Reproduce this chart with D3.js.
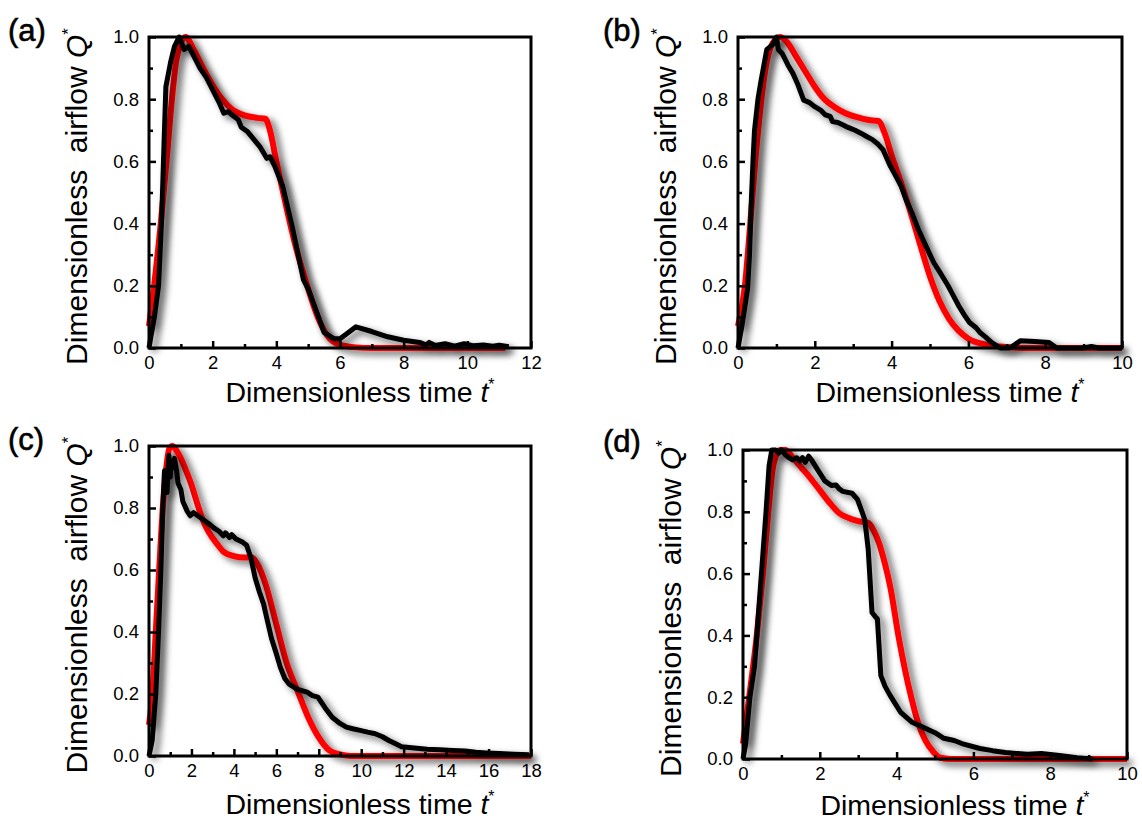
<!DOCTYPE html>
<html>
<head>
<meta charset="utf-8">
<script src="https://cdn.jsdelivr.net/npm/d3@7"></script>
<style>
  body { margin: 0; background: #fff; }
  svg { display: block; font-family: Arial, "Liberation Sans", sans-serif; }
  .tick text { font-size: 18.5px; fill: #000; }
  .tick line { stroke: #000; stroke-width: 2.5; }
</style>
</head>
<body>
<svg id="chart" width="1142" height="822"></svg>
<script>
// model curves (red) and measured airflow (black), [t*, Q*]
const modelA = [[0,0.07],[0.16,0.2],[0.37,0.4],[0.55,0.6],[0.72,0.8],[0.85,0.92],[1.0,0.98],[1.15,1.0],[1.4,0.96],[1.7,0.9],[2.0,0.845],[2.3,0.8],[2.6,0.768],[3.0,0.748],[3.4,0.74],[3.65,0.737],[3.8,0.7],[4.0,0.6],[4.3,0.46],[4.6,0.33],[5.0,0.19],[5.3,0.1],[5.6,0.04],[6.0,0.01],[6.5,0.002],[7,0],[11.2,0]];
const measA = [[0,0],[0.05,0.03],[0.17,0.1],[0.3,0.2],[0.4,0.42],[0.47,0.65],[0.53,0.84],[0.68,0.92],[0.8,0.97],[0.95,1.0],[1.1,0.96],[1.25,0.97],[1.4,0.94],[1.6,0.9],[1.8,0.87],[2.0,0.83],[2.2,0.79],[2.35,0.755],[2.5,0.76],[2.6,0.75],[2.8,0.735],[2.9,0.71],[3.1,0.695],[3.3,0.67],[3.5,0.645],[3.7,0.61],[3.8,0.615],[3.95,0.585],[4.2,0.52],[4.5,0.39],[4.85,0.22],[5.0,0.19],[5.2,0.135],[5.5,0.05],[5.8,0.03],[6.0,0.03],[6.2,0.045],[6.5,0.068],[7.0,0.053],[7.5,0.036],[8.0,0.025],[8.5,0.018],[8.7,0.01],[8.8,0.018],[9.0,0.008],[9.3,0.014],[9.6,0.006],[9.9,0.014],[10.2,0.007],[10.5,0.01],[10.8,0.006],[11.0,0.009],[11.3,0.004]];

const modelB = [[0,0.07],[0.18,0.2],[0.32,0.4],[0.45,0.6],[0.61,0.8],[0.72,0.9],[0.9,0.98],[1.1,1.0],[1.3,0.98],[1.5,0.94],[1.75,0.89],[2.0,0.84],[2.25,0.8],[2.5,0.776],[2.8,0.755],[3.1,0.742],[3.4,0.733],[3.65,0.73],[3.85,0.68],[4.0,0.62],[4.25,0.53],[4.5,0.434],[4.75,0.33],[5.0,0.23],[5.25,0.15],[5.5,0.093],[5.75,0.055],[6.0,0.03],[6.5,0.01],[7,0.003],[7.5,0],[10,0]];
const measB = [[0,0],[0.1,0.07],[0.25,0.19],[0.3,0.3],[0.34,0.45],[0.39,0.6],[0.43,0.7],[0.52,0.8],[0.6,0.86],[0.66,0.9],[0.75,0.96],[0.85,0.97],[0.9,0.975],[1.0,1.0],[1.05,0.96],[1.15,0.947],[1.3,0.91],[1.43,0.883],[1.55,0.85],[1.71,0.797],[1.85,0.79],[2.0,0.776],[2.15,0.765],[2.27,0.75],[2.4,0.745],[2.46,0.728],[2.6,0.725],[2.74,0.717],[2.85,0.71],[2.93,0.706],[3.05,0.7],[3.21,0.69],[3.35,0.68],[3.5,0.67],[3.65,0.655],[3.78,0.637],[3.97,0.584],[4.1,0.555],[4.25,0.52],[4.4,0.47],[4.53,0.434],[4.7,0.38],[4.81,0.35],[5.0,0.3],[5.1,0.274],[5.3,0.235],[5.47,0.2],[5.6,0.17],[5.75,0.135],[5.9,0.105],[6.03,0.082],[6.2,0.065],[6.3,0.05],[6.45,0.035],[6.6,0.018],[6.83,0],[7.07,0],[7.2,0.01],[7.35,0.023],[7.73,0.021],[8.1,0.018],[8.3,0],[9.0,0],[9.2,0.005],[9.4,0],[10,0]];

const modelC = [[0,0.1],[0.16,0.2],[0.32,0.4],[0.48,0.6],[0.65,0.8],[0.8,0.92],[0.95,0.99],[1.1,1.0],[1.3,0.985],[1.5,0.96],[1.75,0.92],[2.0,0.875],[2.25,0.82],[2.5,0.768],[2.75,0.73],[3.0,0.703],[3.25,0.68],[3.5,0.66],[4.0,0.645],[4.5,0.64],[4.85,0.64],[5.1,0.62],[5.5,0.553],[6.0,0.425],[6.5,0.297],[7.0,0.21],[7.5,0.125],[8.0,0.06],[8.5,0.018],[9.0,0.005],[9.5,0],[18,0]];
const measC = [[0,0],[0.15,0.05],[0.32,0.2],[0.45,0.4],[0.56,0.6],[0.65,0.8],[0.73,0.92],[0.8,0.88],[0.85,0.85],[0.9,0.93],[0.94,0.97],[1.0,0.9],[1.05,0.95],[1.1,0.93],[1.2,0.96],[1.3,0.92],[1.37,0.88],[1.5,0.86],[1.6,0.82],[1.8,0.79],[1.94,0.775],[2.1,0.785],[2.3,0.775],[2.5,0.765],[2.7,0.755],[2.9,0.745],[3.07,0.735],[3.3,0.725],[3.5,0.71],[3.6,0.72],[3.8,0.705],[3.9,0.714],[4.1,0.7],[4.4,0.69],[4.6,0.68],[4.8,0.64],[5.0,0.575],[5.2,0.53],[5.4,0.49],[5.6,0.43],[5.77,0.38],[6.0,0.33],[6.19,0.286],[6.4,0.25],[6.6,0.232],[7.0,0.215],[7.45,0.206],[7.7,0.195],[7.96,0.19],[8.3,0.155],[8.63,0.125],[9.0,0.105],[9.3,0.093],[9.6,0.088],[10.0,0.082],[10.3,0.077],[10.66,0.072],[11.0,0.062],[11.3,0.05],[11.6,0.04],[11.9,0.03],[12.5,0.026],[13.1,0.022],[13.7,0.02],[14.3,0.018],[14.9,0.016],[15.4,0.012],[15.9,0.01],[16.5,0.008],[17.2,0.006],[17.9,0.004]];

const modelD = [[0,0.05],[0.16,0.2],[0.36,0.4],[0.52,0.6],[0.66,0.8],[0.79,0.95],[0.97,1.0],[1.1,1.0],[1.3,0.975],[1.5,0.946],[1.75,0.91],[2.0,0.87],[2.25,0.83],[2.5,0.796],[2.75,0.78],[3.0,0.77],[3.26,0.764],[3.4,0.74],[3.54,0.7],[3.7,0.63],[3.83,0.56],[4.06,0.39],[4.2,0.3],[4.39,0.195],[4.58,0.11],[4.75,0.06],[4.95,0.024],[5.14,0.004],[5.4,0],[10,0]];
const measD = [[0,0],[0.07,0.05],[0.18,0.2],[0.3,0.3],[0.48,0.6],[0.6,0.8],[0.68,0.95],[0.75,1.0],[0.85,1.0],[0.93,0.99],[1.0,1.0],[1.1,0.985],[1.2,0.975],[1.29,0.968],[1.4,0.975],[1.48,0.965],[1.55,0.975],[1.62,0.96],[1.71,0.98],[1.8,0.965],[1.95,0.935],[2.13,0.9],[2.3,0.885],[2.42,0.887],[2.5,0.875],[2.6,0.866],[2.84,0.86],[2.98,0.84],[3.1,0.8],[3.17,0.775],[3.26,0.68],[3.36,0.474],[3.45,0.46],[3.5,0.453],[3.59,0.27],[3.7,0.235],[3.83,0.206],[4.1,0.152],[4.39,0.12],[4.76,0.099],[5.0,0.085],[5.23,0.067],[5.5,0.06],[5.7,0.05],[6.17,0.034],[6.5,0.027],[6.83,0.021],[7.4,0.015],[7.77,0.018],[8.0,0.015],[8.24,0.011],[8.7,0.004],[9.1,0]];

const panelLabels = ["(a)", "(b)", "(c)", "(d)"];
const xMaxes = [12, 10, 18, 10];
const yTicks = [0, 0.2, 0.4, 0.6, 0.8, 1.0];

const panels = [
  { left: 149, top: 37, right: 531, bottom: 348, labelX: 8, labelY: 41, titleGap: 54, model: modelA, meas: measA },
  { left: 738, top: 37, right: 1122, bottom: 348, labelX: 603, labelY: 41, titleGap: 54, model: modelB, meas: measB },
  { left: 149, top: 446, right: 531, bottom: 756, labelX: 8, labelY: 450, titleGap: 58, model: modelC, meas: measC },
  { left: 743, top: 450, right: 1127, bottom: 759, labelX: 603, labelY: 452, titleGap: 56, model: modelD, meas: measD },
];

const svg = d3.select("#chart");

const shadow = svg.append("defs").append("filter")
  .attr("id", "shadow").attr("x", "-10%").attr("y", "-10%")
  .attr("width", "130%").attr("height", "130%");
shadow.append("feDropShadow")
  .attr("dx", 5).attr("dy", 4).attr("stdDeviation", 3.5)
  .attr("flood-color", "#000").attr("flood-opacity", 0.6);

panels.forEach((p, i) => {
  const xMax = xMaxes[i];
  const x = d3.scaleLinear().domain([0, xMax]).range([p.left, p.right]);
  const y = d3.scaleLinear().domain([0, 1]).range([p.bottom, p.top]);
  const g = svg.append("g");

  const line = d3.line().x((d) => x(d[0])).y((d) => y(d[1]));

  g.append("path")
    .datum(p.model)
    .attr("d", line.curve(d3.curveMonotoneX))
    .attr("fill", "none")
    .attr("stroke", "#ff0000")
    .attr("stroke-width", 6)
    .attr("stroke-linejoin", "round")
    .attr("filter", "url(#shadow)");

  g.append("path")
    .datum(p.meas)
    .attr("d", line.curve(d3.curveLinear))
    .attr("fill", "none")
    .attr("stroke", "#000")
    .attr("stroke-width", 5)
    .attr("stroke-linejoin", "round")
    .attr("filter", "url(#shadow)");

  // inward ticks, major + minor
  const xMajor = d3.range(0, xMax + 0.01, 2);
  const xMinor = d3.range(1, xMax, 2);
  g.append("g")
    .attr("transform", `translate(0,${p.bottom})`)
    .call(d3.axisBottom(x).tickValues(xMinor).tickSize(-4).tickFormat(""))
    .call((s) => s.select(".domain").remove());
  g.append("g")
    .attr("transform", `translate(0,${p.bottom})`)
    .call(d3.axisBottom(x).tickValues(xMajor).tickSize(-7).tickPadding(8).tickFormat(d3.format("d")))
    .call((s) => s.select(".domain").remove());

  g.append("g")
    .attr("transform", `translate(${p.left},0)`)
    .call(d3.axisLeft(y).tickValues(d3.range(0.1, 1, 0.2)).tickSize(-4).tickFormat(""))
    .call((s) => s.select(".domain").remove());
  g.append("g")
    .attr("transform", `translate(${p.left},0)`)
    .call(d3.axisLeft(y).tickValues(yTicks).tickSize(-7).tickPadding(10).tickFormat(d3.format(".1f")))
    .call((s) => s.select(".domain").remove());

  g.append("rect")
    .attr("x", p.left).attr("y", p.top)
    .attr("width", p.right - p.left).attr("height", p.bottom - p.top)
    .attr("fill", "none").attr("stroke", "#000").attr("stroke-width", 3);

  g.append("text")
    .attr("x", p.labelX).attr("y", p.labelY)
    .attr("font-size", 31)
    .attr("stroke", "#000").attr("stroke-width", 0.6)
    .text(panelLabels[i]);

  const xt = g.append("text")
    .attr("x", (p.left + p.right) / 2 + 20)
    .attr("y", p.bottom + p.titleGap)
    .attr("text-anchor", "middle")
    .attr("font-size", 28.5)
    .text("Dimensionless time ");
  xt.append("tspan").attr("font-style", "italic").text("t");
  xt.append("tspan").attr("font-size", 16).attr("dy", -12).text("*");

  const yt = g.append("text")
    .attr("transform", `translate(${p.left - 62},${(p.top + p.bottom) / 2 + 4}) rotate(-90)`)
    .attr("text-anchor", "middle")
    .attr("font-size", 30)
    .attr("xml:space", "preserve")
    .text("Dimensionless  airflow ");
  yt.append("tspan").attr("font-style", "italic").text("Q");
  yt.append("tspan").attr("font-size", 17).attr("dy", -13).text("*");
});
</script>
</body>
</html>
